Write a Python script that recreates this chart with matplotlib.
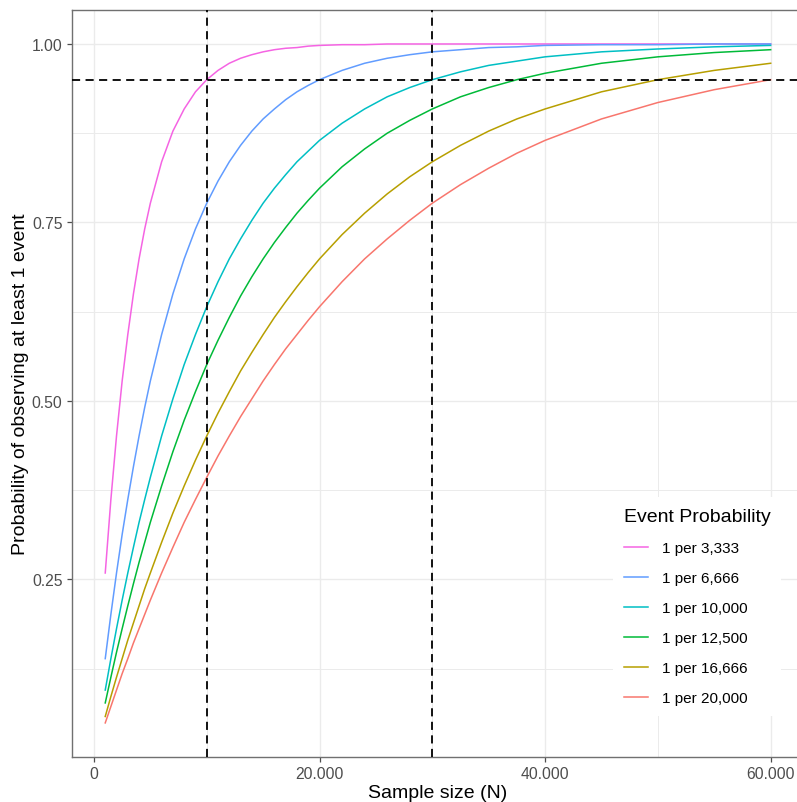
import matplotlib
matplotlib.use('Agg')
import matplotlib.pyplot as plt
from matplotlib.ticker import FixedLocator

plt.rcParams['font.family'] = ['Liberation Sans', 'DejaVu Sans']

# Data
sampleSize = [1000, 1500, 2000, 2500, 3000, 3500, 4000, 4500, 5000, 6000, 7000, 8000, 9000,
              10000, 11000, 12000, 13000, 14000, 15000, 16000, 17000, 18000, 19000, 20000,
              22000, 24000, 26000, 28000, 30000, 32500, 35000, 37500, 40000,
              45000, 50000, 55000, 60000]

prob3333 = [0.259, 0.362, 0.451, 0.528, 0.593, 0.650, 0.699, 0.741, 0.777, 0.835, 0.878, 0.909, 0.933,
            0.950, 0.963, 0.973, 0.980, 0.985, 0.989, 0.992, 0.994, 0.995, 0.997, 0.998,
            0.999, 0.999, 1.000, 1.000, 1.000, 1.000, 1.000, 1.000, 1.000,
            1.000, 1.000, 1.000, 1.000]
prob6666 = [0.139, 0.201, 0.259, 0.313, 0.362, 0.408, 0.451, 0.491, 0.528, 0.593, 0.650, 0.699, 0.741,
            0.777, 0.808, 0.835, 0.858, 0.878, 0.895, 0.909, 0.922, 0.933, 0.942, 0.950,
            0.963, 0.973, 0.980, 0.985, 0.989, 0.992, 0.995, 0.996, 0.998,
            0.999, 0.999, 1.000, 1.000]
prob10000 = [0.095, 0.139, 0.181, 0.221, 0.259, 0.295, 0.330, 0.362, 0.393, 0.451, 0.503, 0.551, 0.593,
             0.632, 0.667, 0.699, 0.727, 0.753, 0.777, 0.798, 0.817, 0.835, 0.850, 0.865,
             0.889, 0.909, 0.926, 0.939, 0.950, 0.961, 0.970, 0.976, 0.982,
             0.989, 0.993, 0.996, 0.998]
prob12500 = [0.077, 0.113, 0.148, 0.181, 0.213, 0.244, 0.274, 0.302, 0.330, 0.381, 0.429, 0.473, 0.513,
             0.551, 0.585, 0.617, 0.647, 0.674, 0.699, 0.722, 0.743, 0.763, 0.781, 0.798,
             0.828, 0.853, 0.875, 0.893, 0.909, 0.926, 0.939, 0.950, 0.959,
             0.973, 0.982, 0.988, 0.992]
prob16666 = [0.058, 0.086, 0.113, 0.139, 0.165, 0.189, 0.213, 0.237, 0.259, 0.302, 0.343, 0.381, 0.417,
             0.451, 0.483, 0.513, 0.542, 0.568, 0.593, 0.617, 0.639, 0.660, 0.680, 0.699,
             0.733, 0.763, 0.790, 0.814, 0.835, 0.858, 0.878, 0.895, 0.909,
             0.933, 0.950, 0.963, 0.973]
prob20000 = [0.049, 0.072, 0.095, 0.118, 0.139, 0.161, 0.181, 0.201, 0.221, 0.259, 0.295, 0.330, 0.362,
             0.393, 0.423, 0.451, 0.478, 0.503, 0.528, 0.551, 0.573, 0.593, 0.613, 0.632,
             0.667, 0.699, 0.727, 0.753, 0.777, 0.803, 0.826, 0.847, 0.865,
             0.895, 0.918, 0.936, 0.950]

seriesLabels = ["1 per 3,333", "1 per 6,666", "1 per 10,000",
                "1 per 12,500", "1 per 16,666", "1 per 20,000"]
seriesValues = [prob3333, prob6666, prob10000, prob12500, prob16666, prob20000]
seriesColors = ["#F564E3", "#619CFF", "#00BFC4", "#00BA38", "#B79F00", "#F8766D"]

vLines = [10000, 30000]
hLine = 0.95

xTicks = [0, 20000, 40000, 60000]
xTickLabels = ["0", "20.000", "40.000", "60.000"]
xMinor = [10000, 30000, 50000]
yTicks = [0.25, 0.50, 0.75, 1.00]
yTickLabels = ["0.25", "0.50", "0.75", "1.00"]
yMinor = [0.125, 0.375, 0.625, 0.875]

fig = plt.figure(figsize=(7.97, 8.03), dpi=100)
ax = fig.add_axes([0.0903, 0.0560, 0.9184, 0.9303])

for label, values, color in zip(seriesLabels, seriesValues, seriesColors):
	ax.plot(sampleSize, values, label=label, color=color, linewidth=1.1, zorder=3)

for xv in vLines:
	ax.axvline(xv, color="black", linewidth=1.3, dashes=(4.5, 3), zorder=4)
ax.axhline(hLine, color="black", linewidth=1.3, dashes=(4.5, 3), zorder=4)

ax.set_xlim(-1950, 62950)
ax.set_ylim(0.0012, 1.0476)

ax.xaxis.set_major_locator(FixedLocator(xTicks))
ax.xaxis.set_minor_locator(FixedLocator(xMinor))
ax.set_xticklabels(xTickLabels)
ax.yaxis.set_major_locator(FixedLocator(yTicks))
ax.yaxis.set_minor_locator(FixedLocator(yMinor))
ax.set_yticklabels(yTickLabels)

ax.grid(which="major", color="#EBEBEB", linewidth=1.0, zorder=0)
ax.grid(which="minor", color="#EBEBEB", linewidth=0.7, zorder=0)
ax.set_axisbelow(True)
ax.tick_params(which="major", length=3.3, width=0.9, color="#4D4D4D",
               labelsize=11.3, labelcolor="#4D4D4D", pad=3.5)
ax.tick_params(which="minor", length=0)

for spine in ax.spines.values():
	spine.set_color("#707070")
	spine.set_linewidth(1.0)
# the panel's right edge falls outside the picture
ax.spines["right"].set_visible(False)

ax.set_xlabel("Sample size (N)", fontsize=14, color="black")
ax.set_ylabel("Probability of observing at least 1 event", fontsize=14, color="black")
ax.xaxis.set_label_coords(0.5, -0.0365)
ax.yaxis.set_label_coords(-0.0587, 0.5)

leg = ax.legend(title="Event Probability", loc="lower left", bbox_to_anchor=(0.729, 0.045),
                fontsize=11, title_fontsize=14, frameon=True, fancybox=False,
                handlelength=1.6, handletextpad=0.9, labelspacing=1.05,
                borderpad=0.7, alignment="left")
leg.get_frame().set_facecolor("white")
leg.get_frame().set_edgecolor("none")
leg.get_frame().set_alpha(1.0)
leg.set_zorder(5)

fig.savefig("out.png", dpi=100)
